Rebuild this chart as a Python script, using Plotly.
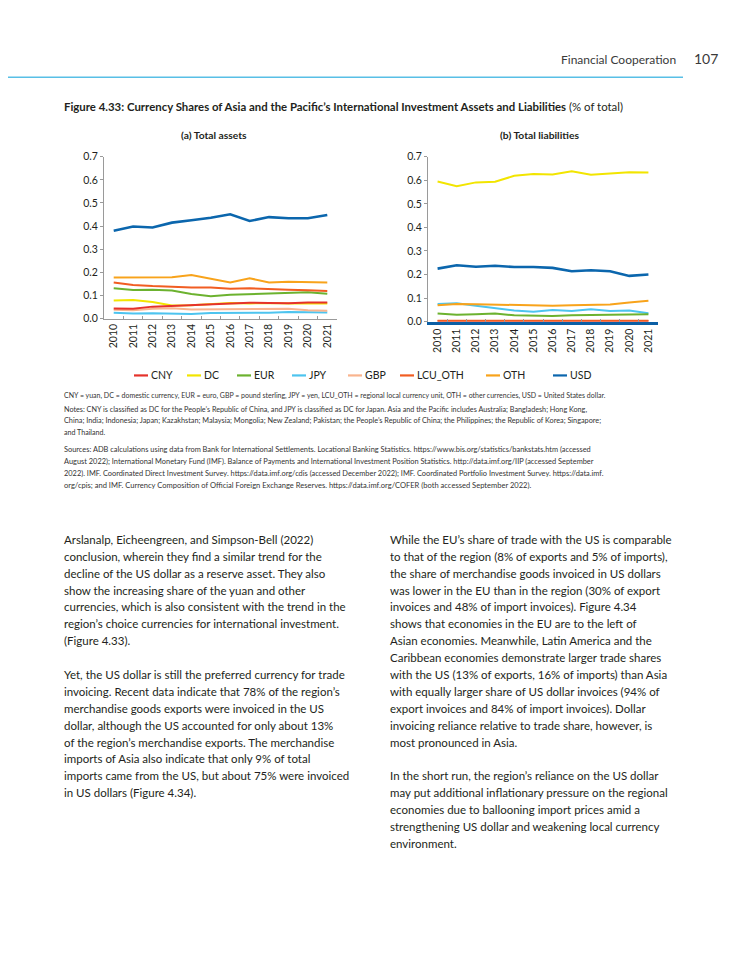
import plotly.graph_objects as go

W, H = 750, 971
OFF = 8  # browser default body margin
FW, FH = W - OFF, H - OFF
FONT = "Lato"
DARK = "#231f20"

years = [str(y) for y in range(2010, 2022)]
series_names = ["CNY", "DC", "EUR", "JPY", "GBP", "LCU_OTH", "OTH", "USD"]
series_colors = ["#e5322b", "#f2e500", "#6cb22f", "#4dc4ef", "#f9b48e", "#f15d22", "#f8a31b", "#0b66ad"]

# (a) Total assets
assets_cny = [0.044, 0.043, 0.052, 0.055, 0.060, 0.064, 0.065, 0.069, 0.068, 0.067, 0.070, 0.070]
assets_dc = [0.078, 0.081, 0.072, 0.057, 0.058, 0.063, 0.068, 0.066, 0.068, 0.066, 0.065, 0.065]
assets_eur = [0.131, 0.124, 0.125, 0.122, 0.107, 0.097, 0.103, 0.106, 0.107, 0.110, 0.114, 0.108]
assets_jpy = [0.026, 0.022, 0.023, 0.023, 0.020, 0.024, 0.024, 0.024, 0.026, 0.029, 0.028, 0.027]
assets_gbp = [0.038, 0.036, 0.043, 0.045, 0.040, 0.041, 0.041, 0.041, 0.043, 0.043, 0.036, 0.034]
assets_lcu_oth = [0.156, 0.146, 0.141, 0.137, 0.135, 0.135, 0.129, 0.131, 0.127, 0.125, 0.123, 0.120]
assets_oth = [0.178, 0.179, 0.180, 0.179, 0.189, 0.172, 0.156, 0.175, 0.156, 0.159, 0.158, 0.156]
assets_usd = [0.380, 0.398, 0.394, 0.415, 0.425, 0.436, 0.451, 0.422, 0.439, 0.434, 0.434, 0.448]

# (b) Total liabilities
liab_cny = [0.001] * 12
liab_dc = [0.595, 0.575, 0.591, 0.594, 0.619, 0.627, 0.624, 0.638, 0.623, 0.630, 0.634, 0.633]
liab_eur = [0.034, 0.029, 0.031, 0.034, 0.027, 0.024, 0.024, 0.027, 0.028, 0.032, 0.032, 0.031]
liab_jpy = [0.075, 0.078, 0.067, 0.057, 0.047, 0.042, 0.049, 0.045, 0.052, 0.045, 0.047, 0.036]
liab_gbp = [0.005] * 12
liab_lcu_oth = [0.003] * 12
liab_oth = [0.070, 0.075, 0.074, 0.073, 0.070, 0.068, 0.067, 0.070, 0.070, 0.073, 0.081, 0.089]
liab_usd = [0.225, 0.239, 0.233, 0.237, 0.232, 0.232, 0.228, 0.214, 0.218, 0.214, 0.194, 0.200]

assets = [assets_cny, assets_dc, assets_eur, assets_jpy, assets_gbp, assets_lcu_oth, assets_oth, assets_usd]
liabs = [liab_cny, liab_dc, liab_eur, liab_jpy, liab_gbp, liab_lcu_oth, liab_oth, liab_usd]
# drawing order (back to front)
draw_order = [3, 4, 1, 0, 2, 5, 6, 7]

y_ticks = [0.0, 0.1, 0.2, 0.3, 0.4, 0.5, 0.6, 0.7]
y_tick_text = ["0.0", "0.1", "0.2", "0.3", "0.4", "0.5", "0.6", "0.7"]

fig = go.Figure()
for idx in draw_order:
    wdt = 2.6 if series_names[idx] == "USD" else 2.0
    fig.add_trace(go.Scatter(x=years, y=assets[idx], mode="lines", name=series_names[idx],
                             line=dict(color=series_colors[idx], width=wdt), xaxis="x", yaxis="y",
                             showlegend=False))
for idx in draw_order:
    wdt = 2.6 if series_names[idx] == "USD" else 2.0
    fig.add_trace(go.Scatter(x=years, y=liabs[idx], mode="lines", name=series_names[idx],
                             line=dict(color=series_colors[idx], width=wdt), xaxis="x2", yaxis="y2",
                             showlegend=False))

def px(x):
    return (x - OFF) / FW

def py(y):
    return 1 - (y - OFF) / FH

axis_common = dict(showgrid=False, zeroline=False, linecolor="#9a9a9a", linewidth=1,
                   tickfont=dict(family=FONT, size=10.5, color=DARK))
xcommon = dict(axis_common, type="category", tickangle=-90, ticks="inside", tickson="boundaries",
               ticklen=3, tickcolor="#9a9a9a", range=[-0.5, 11.5])
ycommon = dict(axis_common, range=[0, 0.7], tickvals=y_ticks, ticktext=y_tick_text,
               ticks="outside", ticklen=3, tickcolor="#9a9a9a")

fig.update_layout(
    width=FW, height=FH, margin=dict(l=0, r=0, t=0, b=0),
    paper_bgcolor="white", plot_bgcolor="white",
    xaxis=dict(xcommon, domain=[px(104), px(337)], anchor="y"),
    yaxis=dict(ycommon, domain=[py(316.5), py(152.5)], anchor="x"),
    xaxis2=dict(xcommon, domain=[px(428), px(658)], anchor="y2"),
    yaxis2=dict(ycommon, domain=[py(319.5), py(152.5)], anchor="x2"),
)
fig.layout.xaxis2.linecolor = "#0b5fa5"
fig.layout.xaxis2.linewidth = 2.5

def txt(x, y, s, size, color=DARK, anchor="left", family=FONT):
    fig.add_annotation(x=px(x), y=py(y), xref="paper", yref="paper", text=s, showarrow=False,
                       xanchor=anchor, yanchor="middle", align=anchor,
                       font=dict(family=family, size=size, color=color))

# header
fig.add_shape(type="line", xref="paper", yref="paper", x0=0, x1=px(683), y0=py(72), y1=py(72),
              line=dict(color="#58bfe6", width=1.5))
txt(678, 54, "Financial Cooperation", 12, color="#3a3a3a", anchor="right")
txt(692, 53, "107", 14, color="#3a3a3a", anchor="left")

# figure title
txt(62, 102, "<b>Figure 4.33: Currency Shares of Asia and the Pacific’s International Investment Assets and Liabilities</b> (% of total)", 11.4)
txt(214, 131, "<b>(a) Total assets</b>", 10.3, anchor="center")
txt(539, 131, "<b>(b) Total liabilities</b>", 10.3, anchor="center")

# legend (manual)
legend_x = [134, 187, 237, 292, 348, 400, 486, 553]
for i, name in enumerate(series_names):
    x0 = legend_x[i]
    fig.add_shape(type="line", xref="paper", yref="paper", x0=px(x0), x1=px(x0 + 14),
                  y0=py(374), y1=py(374), line=dict(color=series_colors[i], width=2.2))
    txt(x0 + 15, 374, name, 10.5)

notes = [
    (394, 7.0, "CNY = yuan, DC = domestic currency, EUR = euro, GBP = pound sterling, JPY = yen, LCU_OTH = regional local currency unit, OTH = other currencies, USD = United States dollar."),
    (408, 7.23, "Notes: CNY is classified as DC for the People’s Republic of China, and JPY is classified as DC for Japan. Asia and the Pacific includes Australia; Bangladesh; Hong Kong,"),
    (420, 7.3, "China; India; Indonesia; Japan; Kazakhstan; Malaysia; Mongolia; New Zealand; Pakistan; the People’s Republic of China; the Philippines; the Republic of Korea; Singapore;"),
    (432, 7.1, "and Thailand."),
    (449, 7.42, "Sources: ADB calculations using data from Bank for International Settlements. Locational Banking Statistics. https://www.bis.org/statistics/bankstats.htm (accessed"),
    (461, 7.42, "August 2022); International Monetary Fund (IMF). Balance of Payments and International Investment Position Statistics. http://data.imf.org/IIP (accessed September"),
    (473, 7.42, "2022). IMF. Coordinated Direct Investment Survey. https://data.imf.org/cdis (accessed December 2022); IMF. Coordinated Portfolio Investment Survey. https://data.imf."),
    (485, 7.55, "org/cpis; and IMF. Currency Composition of Official Foreign Exchange Reserves. https://data.imf.org/COFER (both accessed September 2022)."),
]
for y, sz, s in notes:
    txt(62, y, s, sz, color="#333333")

left_col = [
    "Arslanalp, Eicheengreen, and Simpson-Bell (2022)",
    "conclusion, wherein they find a similar trend for the",
    "decline of the US dollar as a reserve asset. They also",
    "show the increasing share of the yuan and other",
    "currencies, which is also consistent with the trend in the",
    "region’s choice currencies for international investment.",
    "(Figure 4.33).",
    "",
    "Yet, the US dollar is still the preferred currency for trade",
    "invoicing. Recent data indicate that 78% of the region’s",
    "merchandise goods exports were invoiced in the US",
    "dollar, although the US accounted for only about 13%",
    "of the region’s merchandise exports. The merchandise",
    "imports of Asia also indicate that only 9% of total",
    "imports came from the US, but about 75% were invoiced",
    "in US dollars (Figure 4.34).",
]
right_col = [
    "While the EU’s share of trade with the US is comparable",
    "to that of the region (8% of exports and 5% of imports),",
    "the share of merchandise goods invoiced in US dollars",
    "was lower in the EU than in the region (30% of export",
    "invoices and 48% of import invoices). Figure 4.34",
    "shows that economies in the EU are to the left of",
    "Asian economies. Meanwhile, Latin America and the",
    "Caribbean economies demonstrate larger trade shares",
    "with the US (13% of exports, 16% of imports) than Asia",
    "with equally larger share of US dollar invoices (94% of",
    "export invoices and 84% of import invoices). Dollar",
    "invoicing reliance relative to trade share, however, is",
    "most pronounced in Asia.",
    "",
    "In the short run, the region’s reliance on the US dollar",
    "may put additional inflationary pressure on the regional",
    "economies due to ballooning import prices amid a",
    "strengthening US dollar and weakening local currency",
    "environment.",
]
LH = 17.1
for i, s in enumerate(left_col):
    if s:
        txt(62, 540 + i * LH, s, 11.5)
for i, s in enumerate(right_col):
    if s:
        txt(388, 540 + i * LH, s, 11.5)

fig.write_html("out.html")
